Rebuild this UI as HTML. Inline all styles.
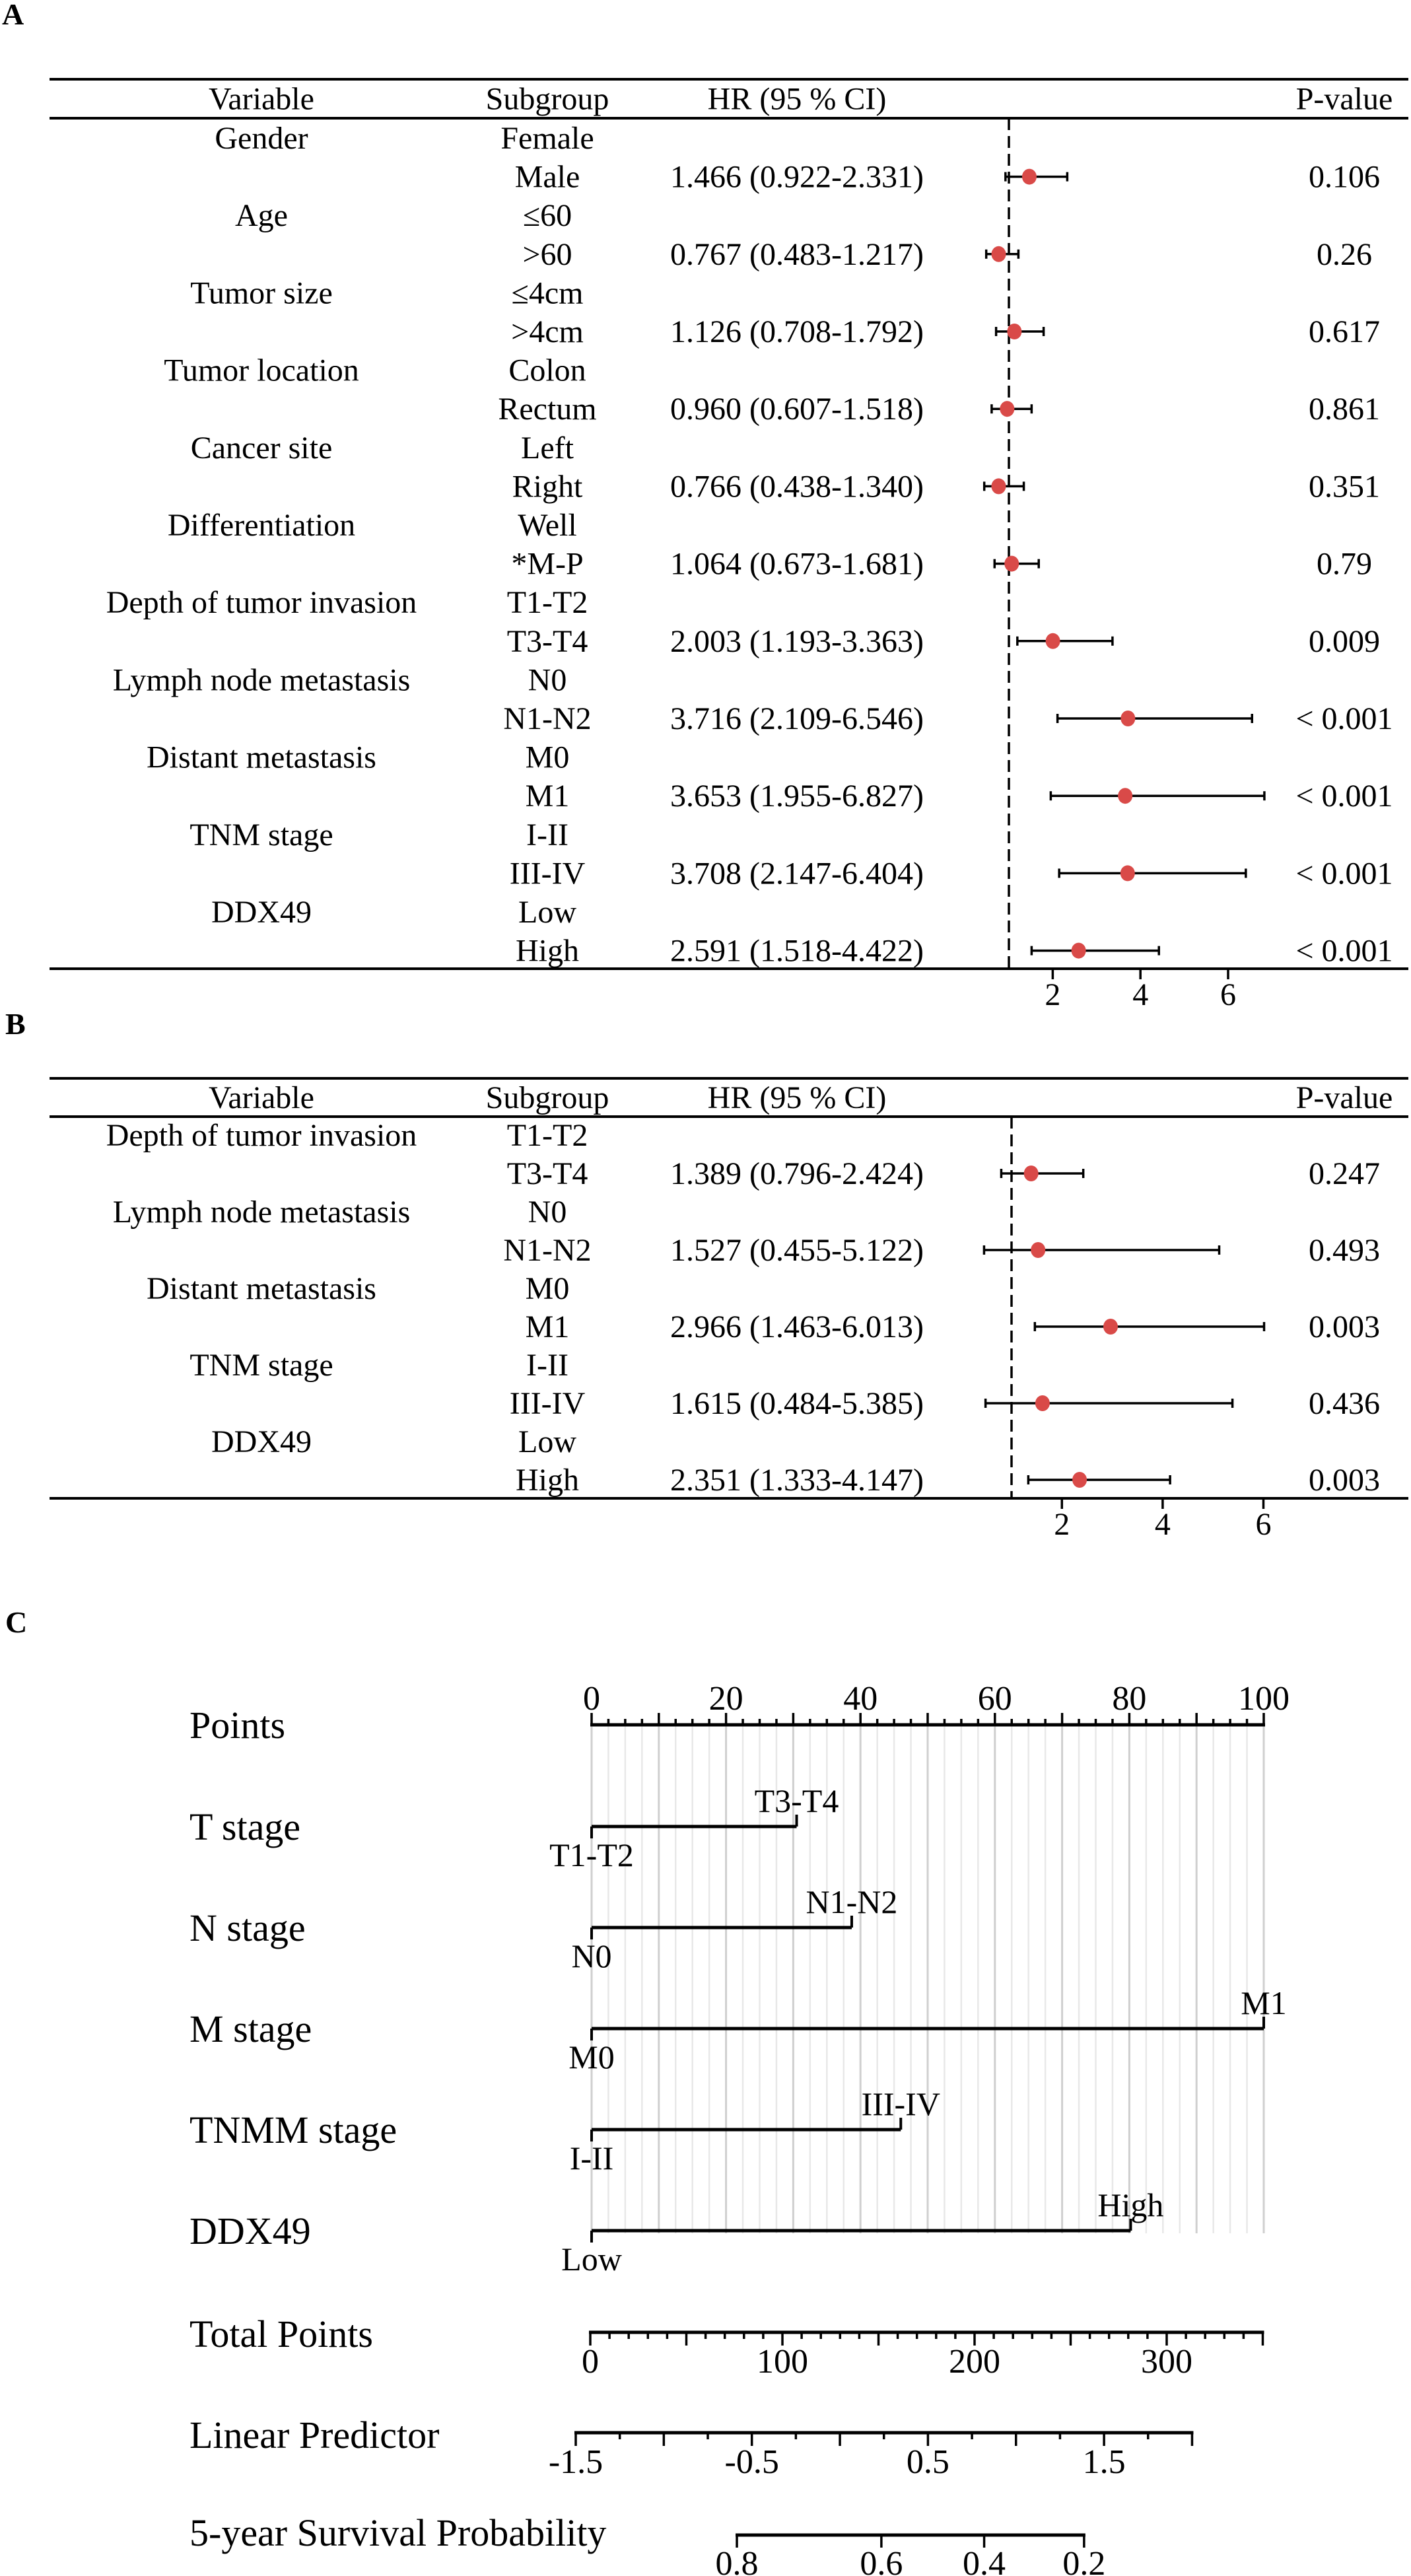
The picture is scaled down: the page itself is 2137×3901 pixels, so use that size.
<!DOCTYPE html>
<html><head><meta charset="utf-8"><style>
html,body{margin:0;padding:0;background:#fff}
svg{display:block;font-family:"Liberation Serif","Times New Roman",serif}
</style></head><body>
<svg id="fig" width="2137" height="3901" viewBox="0 0 2137 3901" xmlns="http://www.w3.org/2000/svg">
<rect width="2137" height="3901" fill="#fff"/>
<text x="3" y="37" font-size="46" font-weight="bold">A</text>
<text x="8" y="1566" font-size="46" font-weight="bold">B</text>
<text x="8" y="2472" font-size="46" font-weight="bold">C</text>
<g id="pa"></g>
<g id="pb"></g>
<g id="pc"></g>
</svg>
<script>
// ---- Panel A data ----
const aVars=["Gender","Age","Tumor size","Tumor location","Cancer site","Differentiation","Depth of tumor invasion","Lymph node metastasis","Distant metastasis","TNM stage","DDX49"];
const aRefs=["Female","≤60","≤4cm","Colon","Left","Well","T1-T2","N0","M0","I-II","Low"];
const aSubs=["Male",">60",">4cm","Rectum","Right","*M-P","T3-T4","N1-N2","M1","III-IV","High"];
const aHR=[1.466,0.767,1.126,0.960,0.766,1.064,2.003,3.716,3.653,3.708,2.591];
const aLo=[0.922,0.483,0.708,0.607,0.438,0.673,1.193,2.109,1.955,2.147,1.518];
const aHi=[2.331,1.217,1.792,1.518,1.340,1.681,3.363,6.546,6.827,6.404,4.422];
const aP=["0.106","0.26","0.617","0.861","0.351","0.79","0.009","< 0.001","< 0.001","< 0.001","< 0.001"];
// ---- Panel B data ----
const bVars=["Depth of tumor invasion","Lymph node metastasis","Distant metastasis","TNM stage","DDX49"];
const bRefs=["T1-T2","N0","M0","I-II","Low"];
const bSubs=["T3-T4","N1-N2","M1","III-IV","High"];
const bHR=[1.389,1.527,2.966,1.615,2.351];
const bLo=[0.796,0.455,1.463,0.484,1.333];
const bHi=[2.424,5.122,6.013,5.385,4.147];
const bP=["0.247","0.493","0.003","0.436","0.003"];
const forestTicks=[2,4,6];
// ---- Panel C data ----
const nomoVars=["T stage","N stage","M stage","TNMM stage","DDX49"];
const nomoLow=["T1-T2","N0","M0","I-II","Low"];
const nomoHigh=["T3-T4","N1-N2","M1","III-IV","High"];
const nomoPoints=[30.5,38.7,100,46,80.2];
const pointsTicks=[0,20,40,60,80,100];
const totalTicks=[0,100,200,300];
const totalMax=350;
const lpTicks=[-1.5,-0.5,0.5,1.5];
const lpMin=-1.5, lpMax=2.0;
const survTicks=["0.8","0.6","0.4","0.2"];
const survTickTotal=[76.3,151.5,205,257];

const NS="http://www.w3.org/2000/svg";
function mk(parent,tag,attrs,txt){const e=document.createElementNS(NS,tag);for(const k in attrs)e.setAttribute(k,attrs[k]);if(txt!==undefined)e.textContent=txt;parent.appendChild(e);return e;}

function forest(g,vars,refs,subs,hr,lo,hi,pv,cfg){
  const X=v=>cfg.x1+(v-1)*cfg.unit;
  let e;
  e=mk(g,"line",{x1:75,x2:2133,y1:cfg.top,y2:cfg.top,stroke:"#000","stroke-width":4});
  
  
  e=mk(g,"line",{x1:75,x2:2133,y1:cfg.hline,y2:cfg.hline,stroke:"#000","stroke-width":4});
  
  
  e=mk(g,"line",{x1:75,x2:2133,y1:cfg.bottom,y2:cfg.bottom,stroke:"#000","stroke-width":4});
  
  
  const hy=(cfg.top+cfg.hline)/2+16;
  const heads=[["Variable",396],["Subgroup",829],["HR (95 % CI)",1207],["P-value",2036]];
  heads.forEach(h=>{e=mk(g,"text",{x:h[1],y:hy,"font-size":48,"text-anchor":"middle"},h[0]);
    
    });
  e=mk(g,"line",{x1:X(1),x2:X(1),y1:cfg.hline,y2:cfg.bottom,stroke:"#000","stroke-width":3.5,"stroke-dasharray":"18 9"});
  
  
  vars.forEach((v,i)=>{
    const y1=cfg.first+(2*i)*cfg.step, y2=y1+cfg.step;
    e=mk(g,"text",{x:396,y:y1+16,"font-size":48,"text-anchor":"middle"},v);
    
    
    e=mk(g,"text",{x:829,y:y1+16,"font-size":48,"text-anchor":"middle"},refs[i]);
    
    
    e=mk(g,"text",{x:829,y:y2+16,"font-size":48,"text-anchor":"middle"},subs[i]);
    
    
    e=mk(g,"text",{x:1207,y:y2+16,"font-size":48,"text-anchor":"middle"},hr[i].toFixed(3)+" ("+lo[i].toFixed(3)+"-"+hi[i].toFixed(3)+")");
    
    
    e=mk(g,"text",{x:2036,y:y2+16,"font-size":48,"text-anchor":"middle"},pv[i]);
    
    
    e=mk(g,"line",{x1:X(lo[i]),x2:X(hi[i]),y1:y2,y2:y2,stroke:"#000","stroke-width":3.5});
    
    
    e=mk(g,"line",{x1:X(lo[i]),x2:X(lo[i]),y1:y2-7,y2:y2+7,stroke:"#000","stroke-width":3.5});
    
    
    e=mk(g,"line",{x1:X(hi[i]),x2:X(hi[i]),y1:y2-7,y2:y2+7,stroke:"#000","stroke-width":3.5});
    
    
    e=mk(g,"ellipse",{cx:X(hr[i]),cy:y2,rx:11,ry:12,fill:"#d94a48"});
    
    
  });
  forestTicks.forEach(t=>{
    e=mk(g,"line",{x1:X(t),x2:X(t),y1:cfg.bottom,y2:cfg.bottom+16,stroke:"#000","stroke-width":3.5});
    
    
    e=mk(g,"text",{x:X(t),y:cfg.bottom+55,"font-size":48,"text-anchor":"middle"},String(t));
    
    
  });
}
forest(document.getElementById("pa"),aVars,aRefs,aSubs,aHR,aLo,aHi,aP,{top:120,hline:179,bottom:1467,first:209,step:58.6,x1:1528,unit:66.4});
forest(document.getElementById("pb"),bVars,bRefs,bSubs,bHR,bLo,bHi,bP,{top:1633,hline:1691,bottom:2269,first:1719,step:58,x1:1532,unit:76.3});

// ---- Nomogram ----
const pc=document.getElementById("pc");
const P0=896, PPX=10.18;
const PX=v=>P0+v*PPX;
const T0=894, TPX=2.91;
const TX=v=>T0+v*TPX;
const LX=v=>872+(v-lpMin)*266.7;
let e;
for(let k=0;k<=40;k++){
  const v=k*2.5, major=(k%4===0);
  e=mk(pc,"line",{x1:PX(v),x2:PX(v),y1:2612,y2:3382,stroke:major?"#cfcfcf":"#e8e8e8","stroke-width":major?3:2.5});
  
  
}
const labY={"Points":2632,"Total Points":3554,"Linear Predictor":3707,"5-year Survival Probability":3855};
for(const k in labY){e=mk(pc,"text",{x:287,y:labY[k],"font-size":58},k);
  
  }
e=mk(pc,"line",{x1:PX(0)-2,x2:PX(100)+2,y1:2612,y2:2612,stroke:"#000","stroke-width":5});


for(let k=0;k<=40;k++){const v=k*2.5, major=(k%4===0);
  e=mk(pc,"line",{x1:PX(v),x2:PX(v),y1:2612,y2:major?2594:2603,stroke:"#000","stroke-width":3.5});
  
  }
pointsTicks.forEach(t=>{e=mk(pc,"text",{x:PX(t),y:2589,"font-size":52,"text-anchor":"middle"},String(t));
  
  });
const barY=[2766,2919,3072,3225,3378];
nomoVars.forEach((v,i)=>{
  const y=barY[i];
  e=mk(pc,"text",{x:287,y:y+20,"font-size":58},v);
  
  
  e=mk(pc,"line",{x1:PX(0),x2:PX(nomoPoints[i]),y1:y,y2:y,stroke:"#000","stroke-width":5});
  
  
  e=mk(pc,"line",{x1:PX(0),x2:PX(0),y1:y,y2:y+18,stroke:"#000","stroke-width":4});
  
  
  e=mk(pc,"line",{x1:PX(nomoPoints[i]),x2:PX(nomoPoints[i]),y1:y,y2:y-18,stroke:"#000","stroke-width":4});
  
  
  e=mk(pc,"text",{x:PX(0),y:y+60,"font-size":50,"text-anchor":"middle"},nomoLow[i]);
  
  
  e=mk(pc,"text",{x:PX(nomoPoints[i]),y:y-22,"font-size":50,"text-anchor":"middle"},nomoHigh[i]);
  
  
});
e=mk(pc,"line",{x1:TX(0)-2,x2:TX(totalMax)+2,y1:3532,y2:3532,stroke:"#000","stroke-width":5});


for(let v=0;v<=totalMax;v+=10){const major=(v%50===0);
  e=mk(pc,"line",{x1:TX(v),x2:TX(v),y1:3532,y2:major?3552:3542,stroke:"#000","stroke-width":3.5});
  
  }
totalTicks.forEach(t=>{e=mk(pc,"text",{x:TX(t),y:3593,"font-size":52,"text-anchor":"middle"},String(t));
  
  });
e=mk(pc,"line",{x1:LX(lpMin)-2,x2:LX(lpMax)+2,y1:3684,y2:3684,stroke:"#000","stroke-width":5});


for(let k=0;k<=14;k++){const v=lpMin+k*0.25, major=(k%2===0);
  e=mk(pc,"line",{x1:LX(v),x2:LX(v),y1:3684,y2:major?3704:3694,stroke:"#000","stroke-width":3.5});
  
  }
lpTicks.forEach(t=>{e=mk(pc,"text",{x:LX(t),y:3745,"font-size":52,"text-anchor":"middle"},String(t));
  
  });
e=mk(pc,"line",{x1:TX(survTickTotal[0])-2,x2:TX(survTickTotal[survTickTotal.length-1])+2,y1:3839,y2:3839,stroke:"#000","stroke-width":5});


survTicks.forEach((t,i)=>{
  e=mk(pc,"line",{x1:TX(survTickTotal[i]),x2:TX(survTickTotal[i]),y1:3839,y2:3858,stroke:"#000","stroke-width":3.5});
  
  
  e=mk(pc,"text",{x:TX(survTickTotal[i]),y:3899,"font-size":52,"text-anchor":"middle"},t);
  
  
});
</script>
</body></html>
